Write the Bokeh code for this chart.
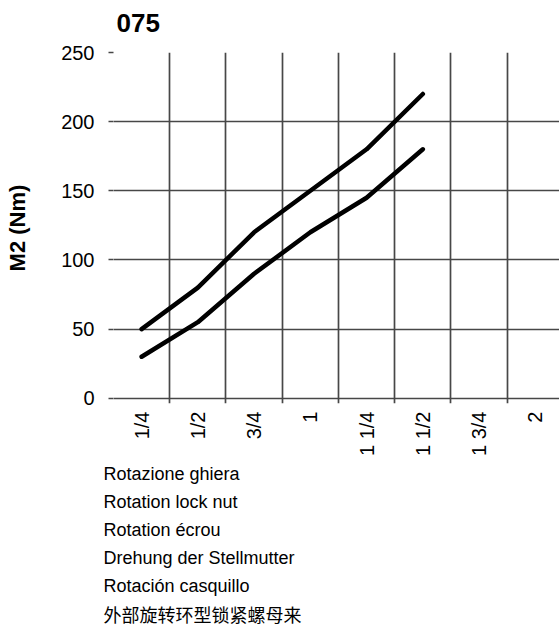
import math
from bokeh.plotting import figure
from bokeh.models import FixedTicker, Title, ColumnDataSource
from bokeh.embed import file_html
from bokeh.resources import INLINE

# ---- data ----
rotations = ["1/4", "1/2", "3/4", "1", "1 1/4", "1 1/2", "1 3/4", "2"]
upper_m2 = [50, 80, 120, 150, 180, 220]
lower_m2 = [30, 55, 90, 120, 145, 180]
y_ticks = [0, 50, 100, 150, 200, 250]
chart_title = "075"
y_label = "M2 (Nm)"
caption_lines = [
    "Rotazione ghiera",
    "Rotation lock nut",
    "Rotation écrou",
    "Drehung der Stellmutter",
    "Rotación casquillo",
    "外部旋转环型锁紧螺母来",
]

centers = [i + 0.5 for i in range(len(rotations))]
bounds = list(range(len(rotations)))

p = figure(width=559, height=626, output_backend="svg", toolbar_location=None,
           x_range=(0, 7.93), y_range=(-3.8, 250),
           min_border_left=113, min_border_right=0, min_border_top=52, min_border_bottom=0)
p.outline_line_color = None
p.background_fill_color = "white"
p.border_fill_color = "white"

grid_color = "#474747"
# grid
p.xgrid.ticker = FixedTicker(ticks=bounds)
p.xgrid.grid_line_color = grid_color
p.xgrid.grid_line_width = 1.7
p.ygrid.ticker = FixedTicker(ticks=y_ticks)
p.ygrid.grid_line_color = grid_color
p.ygrid.grid_line_width = 1.7

# y axis
p.yaxis.ticker = FixedTicker(ticks=y_ticks)
p.yaxis.axis_line_color = None
p.yaxis.major_tick_line_color = grid_color
p.yaxis.major_tick_line_width = 1.7
p.yaxis.major_tick_out = 5
p.yaxis.major_tick_in = 0
p.yaxis.minor_tick_line_color = None
p.yaxis.major_label_standoff = 14
p.yaxis.major_label_text_font = "Liberation Sans"
p.yaxis.major_label_text_font_size = "20px"
p.yaxis.major_label_text_color = "black"
p.yaxis.axis_label = y_label
p.yaxis.axis_label_text_font = "Liberation Sans"
p.yaxis.axis_label_text_font_style = "bold"
p.yaxis.axis_label_text_font_size = "22px"
p.yaxis.axis_label_text_color = "black"
p.yaxis.axis_label_standoff = 28

# x axis: labels at cell centres
p.xaxis.ticker = FixedTicker(ticks=centers)
p.xaxis.major_label_overrides = {c: r for c, r in zip(centers, rotations)}
p.xaxis.axis_line_color = None
p.xaxis.major_tick_line_color = None
p.xaxis.minor_tick_line_color = None
p.xaxis.major_label_orientation = math.pi / 2
p.xaxis.major_label_standoff = 2
p.xaxis.major_label_text_font = "Liberation Sans"
p.xaxis.major_label_text_font_size = "20px"
p.xaxis.major_label_text_color = "black"

# data lines
n = len(upper_m2)
src = ColumnDataSource(dict(x=centers[:n], up=upper_m2, lo=lower_m2))
p.line("x", "up", source=src, line_color="black", line_width=4.5, line_cap="round", line_join="round")
p.line("x", "lo", source=src, line_color="black", line_width=4.5, line_cap="round", line_join="round")

# title (outermost) and a blank spacer between title and frame
p.title.text = chart_title
p.title.text_font = "Liberation Sans"
p.title.text_font_style = "bold"
p.title.text_font_size = "26px"
p.title.text_color = "black"
p.title.align = "left"
p.title.offset = 3
p.title.standoff = 0
p.add_layout(Title(text=" ", text_font_size="10px", standoff=8), "above")

# caption lines below
for line in caption_lines:
    is_cjk = any(ord(ch) > 0x2E80 for ch in line)
    t = Title(text=line, align="left", offset=-10,
              text_font="Noto Sans CJK SC" if is_cjk else "Liberation Sans",
              text_font_size="18px", text_font_style="normal", text_color="black",
              standoff=0 if is_cjk else 6)
    p.add_layout(t, "below")

open("out.html", "w").write(file_html(p, INLINE))
